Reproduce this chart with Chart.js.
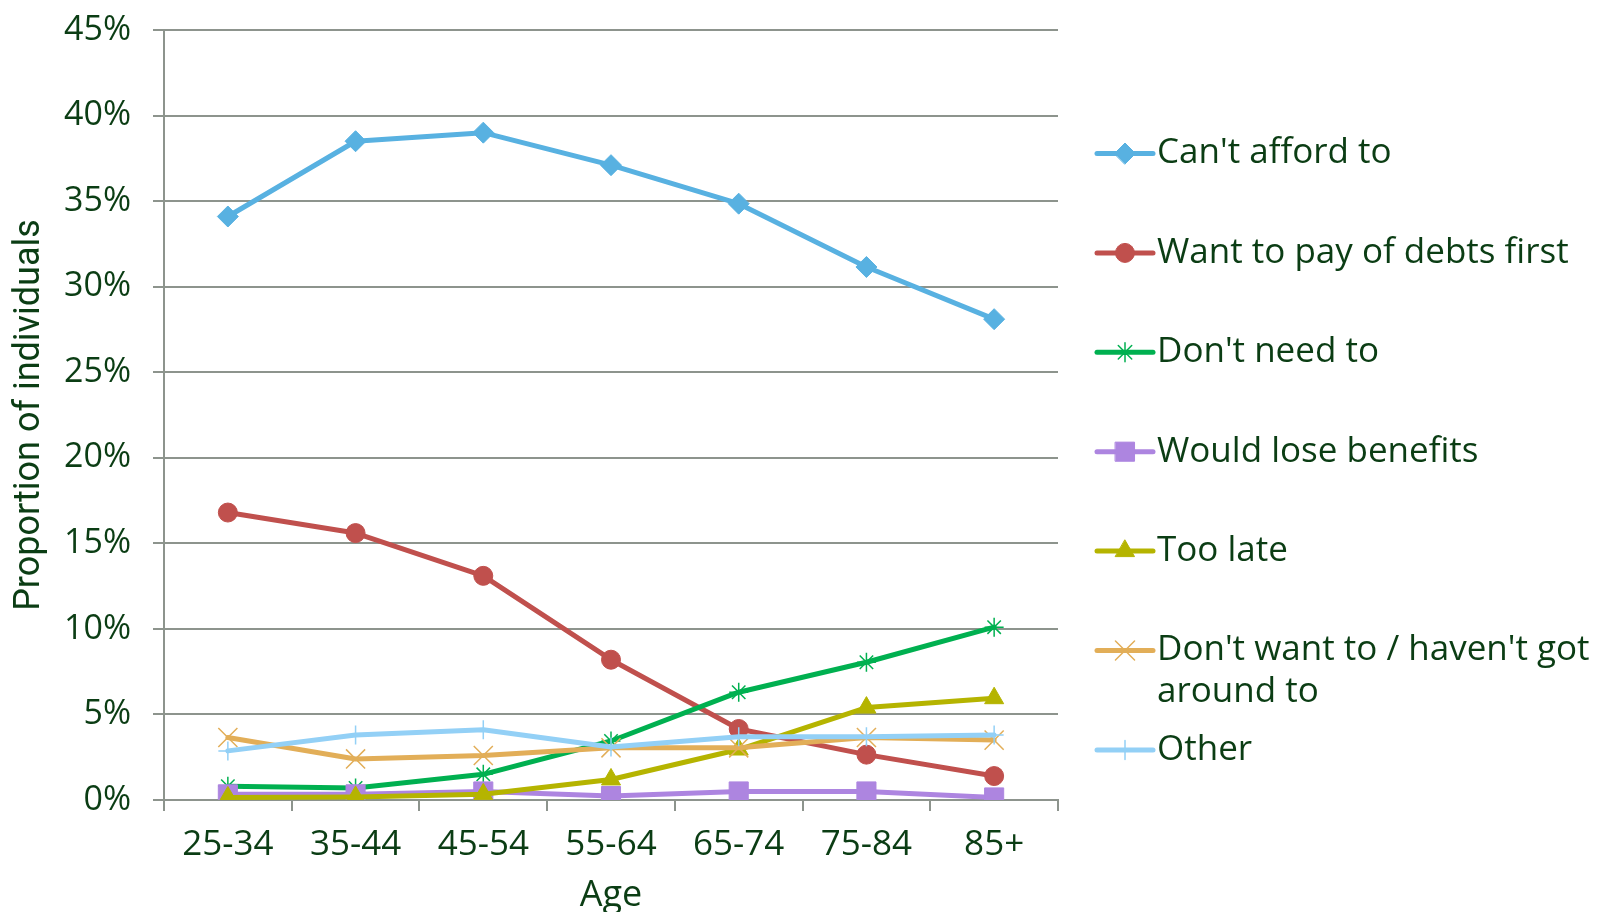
<!DOCTYPE html>
<html>
<head>
<meta charset="utf-8">
<title>Reasons for not saving by age</title>
<script src="https://cdn.jsdelivr.net/npm/chart.js@4.4.1/dist/chart.umd.min.js"></script>
<style>
  html, body { margin: 0; padding: 0; background: #ffffff; }
  #ageChart { display: block; }
</style>
</head>
<body>
<canvas id="ageChart" width="1600" height="912"></canvas>
<script>
// Age bands on the x axis
const ageBands = ['25-34', '35-44', '45-54', '55-64', '65-74', '75-84', '85+'];

// Share of individuals giving each reason (%)
const cantAfford   = [34.1, 38.5, 39.0, 37.1, 34.85, 31.15, 28.1];
const payDebts     = [16.8, 15.6, 13.1, 8.2, 4.15, 2.65, 1.4];
const dontNeed     = [0.8, 0.7, 1.5, 3.45, 6.3, 8.05, 10.1];
const loseBenefits = [0.33, 0.33, 0.5, 0.23, 0.5, 0.5, 0.15];
const tooLate      = [0.15, 0.18, 0.33, 1.2, 2.95, 5.4, 5.95];
const dontWant     = [3.65, 2.4, 2.6, 3.05, 3.05, 3.65, 3.5];
const otherReason  = [2.87, 3.8, 4.1, 3.1, 3.7, 3.7, 3.8];

const seriesNames = [
  "Can't afford to",
  'Want to pay of debts first',
  "Don't need to",
  'Would lose benefits',
  'Too late',
  "Don't want to / haven't got around to",
  'Other'
];

// y axis: 0% to 45% in steps of 5
const yMin = 0;
const yMax = 45;
const yStep = 5;

const textColor = '#0b3d14';
const gridColor = '#8d948d';
const fontFamily = "'Open Sans', 'Noto Sans', sans-serif";

Chart.defaults.font.family = fontFamily;
Chart.defaults.color = textColor;

function makeSeries(label, data, color, style, radius, borderWidth, order) {
  return {
    label: label,
    data: data,
    borderColor: color,
    backgroundColor: color,
    borderWidth: 5,
    borderJoinStyle: 'round',
    borderCapStyle: 'round',
    tension: 0,
    pointStyle: style,
    pointRadius: radius,
    pointHoverRadius: radius,
    pointBorderWidth: borderWidth,
    pointBackgroundColor: color,
    pointBorderColor: color,
    order: order
  };
}

const datasets = [
  makeSeries(seriesNames[0], cantAfford,   '#58b1e1', 'rectRot',  10.5, 1,   6),
  makeSeries(seriesNames[1], payDebts,     '#c0504d', 'circle',   9.5, 1,   5),
  makeSeries(seriesNames[2], dontNeed,     '#00b050', 'star',     9.5, 1.5, 4),
  makeSeries(seriesNames[3], loseBenefits, '#ad85e0', 'rect',     13.5, 1,  3),
  makeSeries(seriesNames[4], tooLate,      '#b5b400', 'triangle', 11,   1,  2),
  makeSeries(seriesNames[5], dontWant,     '#e2ae58', 'crossRot', 13.5, 1.5, 1),
  makeSeries(seriesNames[6], otherReason,  '#93d0f6', 'cross',    9.5, 1.5, 0)
];

// Legend on the right, drawn by hand so the long label can wrap
const sideLegend = {
  id: 'sideLegend',
  afterDraw(chart) {
    const ctx = chart.ctx;
    const lineX0 = 1097, lineX1 = 1153, markX = 1125, textX = 1157;
    const firstY = 153.5, stepY = 99.4, lineGap = 42;
    const maxTextWidth = 450;
    ctx.save();
    ctx.font = '35px ' + fontFamily;
    ctx.textBaseline = 'middle';
    ctx.textAlign = 'left';
    datasets.forEach((ds, i) => {
      const y = firstY + i * stepY;
      ctx.strokeStyle = ds.borderColor;
      ctx.lineWidth = 5;
      ctx.lineCap = 'round';
      ctx.beginPath();
      ctx.moveTo(lineX0, y);
      ctx.lineTo(lineX1, y);
      ctx.stroke();

      ctx.fillStyle = ds.pointBackgroundColor;
      ctx.strokeStyle = ds.pointBorderColor;
      ctx.lineWidth = ds.pointBorderWidth;
      Chart.helpers.drawPoint(ctx, {
        pointStyle: ds.pointStyle,
        radius: ds.pointRadius,
        borderWidth: ds.pointBorderWidth,
        rotation: 0
      }, markX, y);

      // simple word wrap
      const words = ds.label.split(' ');
      const lines = [];
      let cur = '';
      words.forEach(w => {
        const test = cur ? cur + ' ' + w : w;
        if (cur && ctx.measureText(test).width > maxTextWidth) {
          lines.push(cur);
          cur = w;
        } else {
          cur = test;
        }
      });
      lines.push(cur);
      ctx.fillStyle = textColor;
      lines.forEach((ln, k) => ctx.fillText(ln, textX, y + k * lineGap));
    });
    ctx.restore();
  }
};

new Chart(document.getElementById('ageChart'), {
  type: 'line',
  data: { labels: ageBands, datasets: datasets },
  plugins: [sideLegend],
  options: {
    responsive: false,
    animation: false,
    layout: { padding: { top: 30, right: 542, bottom: 0, left: 0 } },
    plugins: {
      legend: { display: false },
      tooltip: { enabled: false }
    },
    scales: {
      x: {
        offset: true,
        grid: {
          offset: true,
          drawOnChartArea: false,
          drawTicks: true,
          tickLength: 11,
          color: gridColor,
          lineWidth: 2
        },
        border: { color: gridColor, width: 2 },
        ticks: {
          color: textColor,
          font: { size: 35 },
          padding: 13,
          maxRotation: 0,
          autoSkip: false
        },
        title: {
          display: true,
          text: 'Age',
          color: textColor,
          font: { size: 36, lineHeight: 0.9 },
          padding: { top: 0, bottom: 0 }
        },
        afterFit(scale) { scale.height = 112; }
      },
      y: {
        min: yMin,
        max: yMax,
        grid: {
          color: gridColor,
          lineWidth: 2,
          drawTicks: true,
          tickLength: 11
        },
        border: { color: gridColor, width: 2 },
        ticks: {
          stepSize: yStep,
          color: textColor,
          font: { size: 34 },
          padding: 22,
          callback: v => v + '%'
        },
        title: {
          display: true,
          text: 'Proportion of individuals',
          color: textColor,
          font: { family: "Roboto, 'Open Sans', sans-serif", size: 36 },
          padding: { top: 8, bottom: 0 }
        },
        afterFit(scale) {
          scale.width = 164;
          // let the top label hang into the padding
          scale.paddingTop = 0;
          scale.paddingBottom = 0;
        }
      }
    }
  }
});
</script>
</body>
</html>
